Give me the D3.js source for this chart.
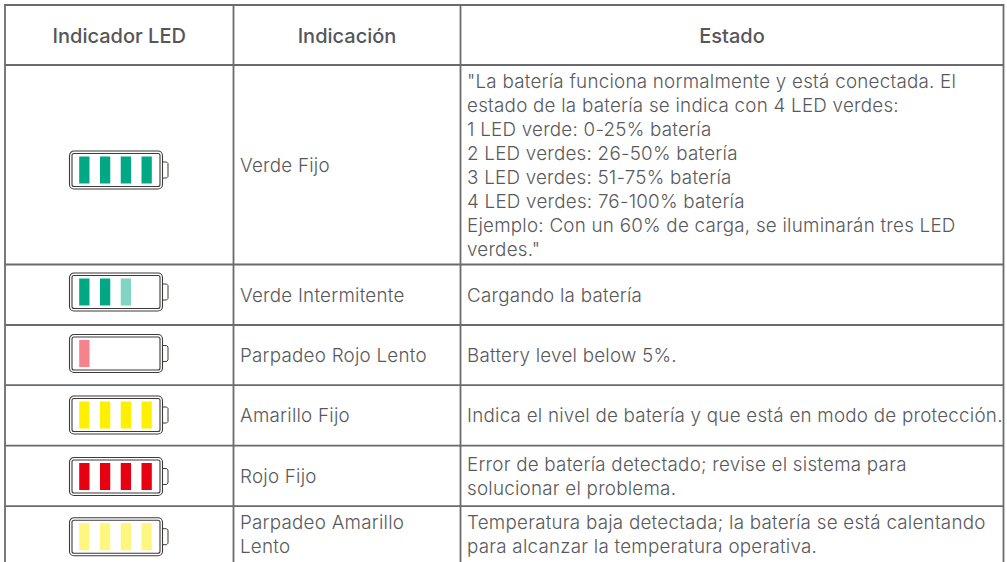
<!DOCTYPE html>
<html>
<head>
<meta charset="utf-8">
<script src="https://cdn.jsdelivr.net/npm/d3@7"></script>
<style>
  html, body { margin: 0; padding: 0; background: #fff; overflow: hidden; }
</style>
</head>
<body>
<div id="chart"></div>
<script>
const headers = ["Indicador LED", "Indicación", "Estado"];
const indications = [
  ["Verde Fijo"],
  ["Verde Intermitente"],
  ["Parpadeo Rojo Lento"],
  ["Amarillo Fijo"],
  ["Rojo Fijo"],
  ["Parpadeo Amarillo", "Lento"]
];
const states = [
  ["\"La batería funciona normalmente y está conectada. El",
   "estado de la batería se indica con 4 LED verdes:",
   "1 LED verde: 0-25% batería",
   "2 LED verdes: 26-50% batería",
   "3 LED verdes: 51-75% batería",
   "4 LED verdes: 76-100% batería",
   "Ejemplo: Con un 60% de carga, se iluminarán tres LED",
   "verdes.\""],
  ["Cargando la batería"],
  ["Battery level below 5%."],
  ["Indica el nivel de batería y que está en modo de protección."],
  ["Error de batería detectado; revise el sistema para",
   "solucionar el problema."],
  ["Temperatura baja detectada; la batería se está calentando",
   "para alcanzar la temperatura operativa."]
];
// colour of each lit LED, per row
const ledColors = [
  ["#00a984", "#00a984", "#00a984", "#00a984"],
  ["#00a984", "#00a984", "#80d4c1"],
  ["#f6828c"],
  ["#fff000", "#fff000", "#fff000", "#fff000"],
  ["#e60012", "#e60012", "#e60012", "#e60012"],
  ["#fff67f", "#fff67f", "#fff67f", "#fff67f"]
];

const width = 1007, height = 562;
const colEdges = [5, 233.5, 460.5, 1003.5];
const rowEdges = [5, 65, 264.5, 325, 385.2, 445.7, 506.2];
const batteryCenters = [170, 292, 353.5, 415, 476.5, 536.7];
const textCenters = [164.8, 295, 355, 415.5, 476, 534.5];
const lineColor = "#6a6b6e", textColor = "#58595c";
const fontFamily = "Inter, 'Open Sans', sans-serif";

let svg = d3.select("#chart").append("svg")
  .attr("width", width)
  .attr("height", height)
  .style("display", "block");

// Grid lines
svg.selectAll(".vline").data(colEdges).join("line")
  .attr("x1", d => d).attr("x2", d => d)
  .attr("y1", rowEdges[0] - 1).attr("y2", height)
  .attr("stroke", lineColor).attr("stroke-width", 1.8);
svg.selectAll(".hline").data(rowEdges).join("line")
  .attr("x1", colEdges[0]).attr("x2", colEdges[3])
  .attr("y1", d => d).attr("y2", d => d)
  .attr("stroke", lineColor).attr("stroke-width", 1.8);

// Header row
svg.selectAll(".header").data(headers).join("text")
  .attr("x", (d, i) => (colEdges[i] + colEdges[i + 1]) / 2)
  .attr("y", 43.3)
  .attr("text-anchor", "middle")
  .attr("font-family", fontFamily)
  .attr("font-size", "20px")
  .attr("font-weight", 500)
  .attr("fill", "#55565a")
  .text(d => d);

const lineHeight = 24;

function drawLines(lines, x, rowIndex) {
  let top = textCenters[rowIndex] - (lines.length - 1) * lineHeight / 2;
  svg.append("g").selectAll("text").data(lines).join("text")
    .attr("x", x)
    .attr("y", (d, i) => top + i * lineHeight + 6.8)
    .attr("font-family", fontFamily)
    .attr("font-size", "18.8px")
    .attr("font-weight", 300)
    .attr("letter-spacing", "0.24px")
    .attr("fill", textColor)
    .text(d => d);
}

indications.forEach((lines, i) => drawLines(lines, 240, i));
states.forEach((lines, i) => drawLines(lines, 467, i));

// Battery icons
const batW = 93, batH = 38;
const ledX = d3.scaleLinear().domain([0, 3]).range([79.2, 141.5]);

ledColors.forEach((leds, i) => {
  let g = svg.append("g").attr("transform", `translate(0,${batteryCenters[i] - batH / 2})`);
  g.append("rect").attr("x", 69.5).attr("y", 0).attr("width", batW).attr("height", batH)
    .attr("rx", 4.5).attr("fill", "none").attr("stroke", "#3e3a39").attr("stroke-width", 1.1);
  g.append("rect").attr("x", 72).attr("y", 2.5).attr("width", batW - 5).attr("height", batH - 5)
    .attr("rx", 2).attr("fill", "none").attr("stroke", "#3e3a39").attr("stroke-width", 1.1);
  g.append("path")
    .attr("d", `M162.5,${batH / 2 - 8}h4l1.5,1.5v13l-1.5,1.5h-4`)
    .attr("fill", "none").attr("stroke", "#3e3a39").attr("stroke-width", 1);
  g.selectAll(".led").data(leds).join("rect")
    .attr("x", (d, j) => ledX(j))
    .attr("y", 5.5)
    .attr("width", 10.3)
    .attr("height", 27)
    .attr("fill", d => d);
});
</script>
</body>
</html>
